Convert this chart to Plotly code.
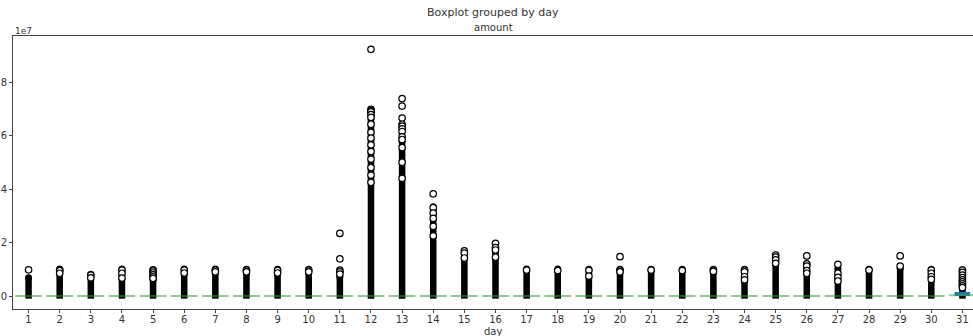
import plotly.graph_objects as go

# ---- data (amount, in absolute units; axis shows multiples of 1e7) ----
days = list(range(1, 32))

# top of the dense run of flier points (drawn as a solid column)
dense_top = [0.68e7, 1.01e7, 0.81e7, 1.01e7, 0.60e7, 1.01e7, 1.01e7, 1.00e7, 1.00e7, 1.00e7,
             0.72e7, 6.85e7, 5.80e7, 3.34e7, 1.55e7, 1.72e7, 1.01e7, 1.01e7, 1.00e7, 1.00e7,
             1.00e7, 1.00e7, 1.00e7, 1.00e7, 1.20e7, 1.20e7, 1.03e7, 1.00e7, 1.03e7, 1.00e7,
             0.97e7]

# individually visible fliers per day
fliers = {
    1: [0.98e7],
    2: [0.98e7, 0.95e7, 0.85e7],
    3: [0.78e7, 0.68e7],
    4: [0.97e7, 0.85e7, 0.67e7],
    5: [0.98e7, 0.93e7, 0.86e7, 0.79e7, 0.72e7, 0.66e7],
    6: [0.97e7, 0.86e7],
    7: [0.97e7, 0.90e7],
    8: [0.97e7, 0.90e7],
    9: [0.96e7, 0.86e7],
    10: [0.97e7, 0.90e7],
    11: [2.34e7, 1.39e7, 0.97e7, 0.90e7, 0.82e7],
    12: [9.22e7, 6.98e7, 6.93e7, 6.88e7, 6.78e7, 6.68e7, 6.42e7, 6.12e7, 5.90e7,
         5.65e7, 5.40e7, 5.12e7, 4.80e7, 4.52e7, 4.25e7],
    13: [7.38e7, 7.10e7, 6.65e7, 6.42e7, 6.35e7, 6.25e7, 6.15e7, 5.95e7, 5.85e7,
         5.55e7, 5.00e7, 4.40e7],
    14: [3.82e7, 3.30e7, 3.10e7, 2.90e7, 2.60e7, 2.25e7],
    15: [1.69e7, 1.60e7, 1.42e7],
    16: [1.97e7, 1.81e7, 1.72e7, 1.45e7],
    17: [0.97e7],
    18: [0.95e7],
    19: [0.96e7, 0.74e7],
    20: [1.47e7, 0.97e7, 0.90e7],
    21: [0.97e7],
    22: [0.95e7],
    23: [0.97e7, 0.92e7],
    24: [0.97e7, 0.90e7, 0.72e7, 0.60e7],
    25: [1.53e7, 1.45e7, 1.35e7, 1.22e7],
    26: [1.50e7, 1.20e7, 1.12e7, 0.95e7, 0.85e7],
    27: [1.18e7, 0.85e7, 0.70e7, 0.56e7],
    28: [0.97e7],
    29: [1.50e7, 1.12e7],
    30: [0.97e7, 0.85e7, 0.72e7, 0.62e7],
    31: [0.97e7, 0.88e7, 0.78e7, 0.69e7, 0.60e7, 0.53e7, 0.45e7, 0.38e7, 0.31e7],
}

# box statistics
box_q1 = [0.0] * 31
box_q3 = [0.0] * 30 + [0.15e7]
medians = [0.0] * 30 + [0.03e7]

ytick_vals = [0, 2e7, 4e7, 6e7, 8e7]
ytick_text = ["0", "2", "4", "6", "8"]
xtick_text = [str(d) for d in days]

FONT = "DejaVu Sans"
TXT = "#333333"

fig = go.Figure()

# dense flier columns
col_base = -0.1e7
fig.add_trace(go.Bar(
    x=days, y=[t - col_base for t in dense_top], base=col_base,
    width=0.21, marker=dict(color="black", line=dict(width=0)),
    hoverinfo="skip", showlegend=False))
# rounded tops of the columns
fig.add_trace(go.Scatter(
    x=days, y=dense_top, mode="markers",
    marker=dict(symbol="circle", size=7, color="black", line=dict(width=0)),
    hoverinfo="skip", showlegend=False))

# individual fliers
fx, fy = [], []
for d in days:
    for v in fliers.get(d, []):
        fx.append(d)
        fy.append(v)
fig.add_trace(go.Scatter(
    x=fx, y=fy, mode="markers",
    marker=dict(symbol="circle", size=6.5, color="white",
                line=dict(color="black", width=1.2)),
    hoverinfo="skip", showlegend=False))

# boxes
fig.add_trace(go.Bar(
    x=days, y=[q3 - q1 for q1, q3 in zip(box_q1, box_q3)], base=box_q1,
    width=0.5, marker=dict(color="#1f77b4", line=dict(width=0)),
    hoverinfo="skip", showlegend=False))

# medians
fig.add_trace(go.Scatter(
    x=days, y=medians, mode="markers",
    marker=dict(symbol="line-ew", size=19,
                line=dict(color="rgba(44,160,44,0.55)", width=2)),
    hoverinfo="skip", showlegend=False))

fig.update_layout(
    width=973, height=336,
    margin=dict(l=13, r=0, t=36, b=27, autoexpand=False),
    paper_bgcolor="white", plot_bgcolor="white",
    barmode="overlay",
    font=dict(family=FONT, size=10, color=TXT),
    showlegend=False,
)
fig.update_xaxes(
    range=[0.5, 31.34], tickmode="array", tickvals=days, ticktext=xtick_text,
    showgrid=False, zeroline=False, showline=True, linecolor="#444", linewidth=1,
    mirror=True, ticks="outside", ticklen=3, tickcolor="#444", automargin=False,
    ticklabelstandoff=-2,
    tickfont=dict(family=FONT, size=10, color=TXT),
)
fig.update_yaxes(
    range=[-0.486e7, 9.72e7], tickmode="array", tickvals=ytick_vals, ticktext=ytick_text,
    showgrid=False, zeroline=False, showline=True, linecolor="#444", linewidth=1,
    mirror=True, ticks="outside", ticklen=3, tickcolor="#444", automargin=False,
    tickfont=dict(family=FONT, size=10, color=TXT),
)

annos = [
    dict(text="Boxplot grouped by day", x=0.5, y=1, xref="paper", yref="paper",
         xanchor="center", yanchor="bottom", yshift=15, showarrow=False,
         font=dict(family=FONT, size=11, color=TXT)),
    dict(text="amount", x=0.5, y=1, xref="paper", yref="paper",
         xanchor="center", yanchor="bottom", yshift=1, showarrow=False,
         font=dict(family=FONT, size=10, color=TXT)),
    dict(text="1e7", x=0, y=1, xref="paper", yref="paper",
         xanchor="left", yanchor="bottom", yshift=-2, showarrow=False,
         font=dict(family=FONT, size=9, color=TXT)),
    dict(text="day", x=0.5, y=0, xref="paper", yref="paper",
         xanchor="center", yanchor="top", yshift=-15, showarrow=False,
         font=dict(family=FONT, size=10, color=TXT)),
]
fig.update_layout(annotations=annos)

fig.write_html("out.html", config={"displayModeBar": False},
               post_script="document.body.style.margin='0';document.body.style.overflow='hidden';")
